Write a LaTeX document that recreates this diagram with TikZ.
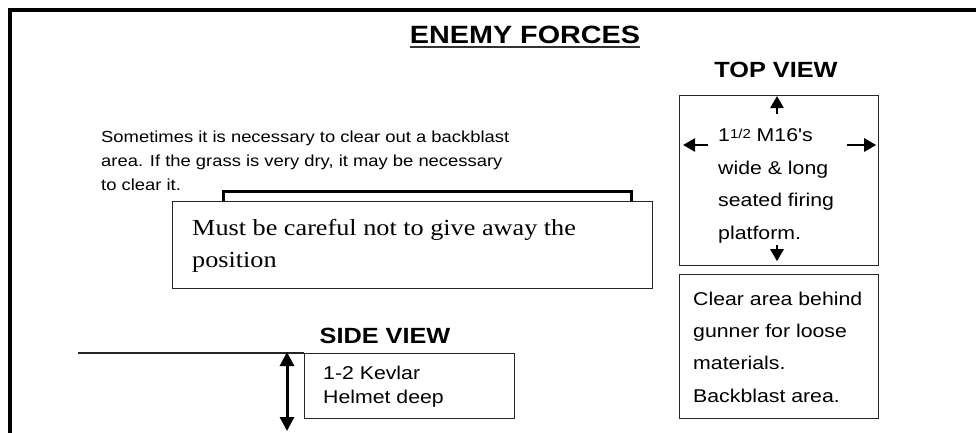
\documentclass[tikz,border=0pt]{standalone}
\usepackage{fontspec}
\usetikzlibrary{arrows.meta}
\newfontfamily\armyfont[FakeStretch=1.15]{Liberation Sans}
\newfontfamily\notefont[FakeStretch=1.14]{Liberation Serif}

\begin{document}
\begin{tikzpicture}[x=1pt,y=-1pt]

% --- STYLES ---
% (multi-line text nodes sit on the baseline of their last line)
\tikzset{
  heading/.style={font=\armyfont\bfseries\fontsize{22}{22}\selectfont,
                  inner sep=0pt, anchor=base},
  bodytext/.style={font=\armyfont\fontsize{16}{24}\selectfont,
                   align=left, inner sep=0pt, anchor=base west},
  boxtext/.style={font=\armyfont\fontsize{18.5}{32.5}\selectfont,
                  align=left, inner sep=0pt, anchor=base west},
  panel/.style={draw=black!85, line width=1.2pt, fill=white,
                anchor=north west, inner sep=0pt},
  pointer/.style={line width=2.6pt, -{Triangle[length=12pt, width=13pt]}},
}

\useasboundingbox (0,0) rectangle (976,432);
\clip (0,0) rectangle (976,432);

% ================= FRAME & TITLE =================
\draw[line width=4pt] (10,445) -- (10,10) -- (990,10);

\node[heading, font=\armyfont\bfseries\fontsize{25}{25}\selectfont]
      (title) at (525,43) {ENEMY FORCES};
\draw[line width=2pt, black!80]
      ([yshift=-4pt]title.base west) -- ([yshift=-4pt]title.base east);

% ================= BACKBLAST NOTE =================
\node[bodytext] (blast) at (101,190)
      {Sometimes it is necessary to clear out a backblast\\
       area.  If the grass is very dry, it may be necessary\\
       to clear it.};

\draw[line width=3pt] (223,205) -- (223,191.5) -- (631,191.5) -- (631,205);

\node[panel, minimum width=480, minimum height=87] (warn) at (172,201) {};
\node[font=\notefont\fontsize{23}{32}\selectfont, align=left,
      inner sep=0pt, anchor=base west] (warntext) at (192,267)
      {Must be careful not to give away the\\ position};

% ================= TOP VIEW =================
\node[heading] (topview) at (776,77) {TOP VIEW};

\node[panel, minimum width=199, minimum height=170] (topbox) at (679,95) {};
\node[boxtext] (firing) at (718,239)
      {1\raisebox{3pt}{\fontsize{13}{13}\selectfont 1/2} M16's\\
       wide \& long\\ seated firing\\ platform.};

\coordinate (upfoot)    at (777,114);
\coordinate (downfoot)  at (777,245);
\coordinate (leftfoot)  at (708,145);
\coordinate (rightfoot) at (847,145);
\draw[pointer] (upfoot)    -- ([yshift=-1pt]upfoot |- topbox.north);
\draw[pointer] (downfoot)  -- ([yshift=5pt]downfoot |- topbox.south);
\draw[pointer] (leftfoot)  -- ([xshift=4pt]leftfoot -| topbox.west);
\draw[pointer] (rightfoot) -- ([xshift=-3pt]rightfoot -| topbox.east);

\node[panel, minimum width=199, minimum height=144] (clearbox) at (679,274) {};
\node[boxtext, font=\armyfont\fontsize{18.5}{32.3}\selectfont] (clear) at (693,402)
      {Clear area behind\\ gunner for loose\\ materials.\\ Backblast area.};

% ================= SIDE VIEW =================
\node[heading] (sideview) at (385,343) {SIDE VIEW};

\node[panel, minimum width=210, minimum height=65] (sidebox) at (304,353) {};
\coordinate (ground) at (78,353);
\draw[line width=1.2pt, black!85] (ground) -- (sidebox.north west);
\node[boxtext, font=\armyfont\fontsize{18.5}{24}\selectfont] (depth) at (323,403)
      {1-2 Kevlar\\ Helmet deep};

\coordinate (depthtop) at (287,352);
\coordinate (depthbot) at (287,431);
\draw[line width=3pt, {Triangle[length=14pt, width=14pt]}-{Triangle[length=14pt, width=14pt]}]
      (depthtop) -- (depthbot);

\end{tikzpicture}
\end{document}
